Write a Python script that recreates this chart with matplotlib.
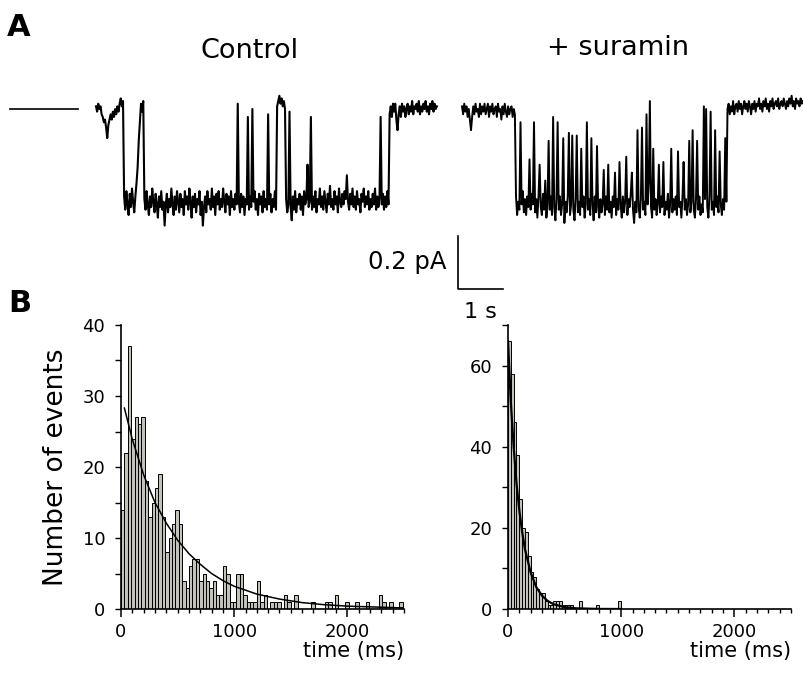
import numpy as np
import matplotlib
matplotlib.use("Agg")
import matplotlib.pyplot as plt
from matplotlib.ticker import MultipleLocator, FixedLocator

# ---- panel A: single-channel traces (pA), one sample every 25 ms ----
TRACE_DT = 0.025
control_trace = [
    0.01, -0.01, 0.02, 0.00, 0.01, -0.02, -0.03, -0.05, -0.04, -0.07,
    -0.11, -0.06, -0.04, -0.02, -0.04, -0.01, -0.03, 0.00, -0.02, 0.01,
    -0.01, 0.02, 0.04, 0.01, 0.03, -0.33, -0.38, -0.31, -0.36, -0.40,
    -0.32, -0.37, -0.30, -0.35, -0.39, -0.33, -0.28, -0.22, -0.12, -0.05,
    0.02, -0.01, 0.03, -0.34, -0.38, -0.31, -0.36, -0.40, -0.33, -0.37,
    -0.30, -0.35, -0.39, -0.32, -0.36, -0.41, -0.33, -0.37, -0.31, -0.38,
    -0.35, -0.44, -0.36, -0.32, -0.39, -0.34, -0.37, -0.30, -0.36, -0.40,
    -0.33, -0.38, -0.31, -0.35, -0.39, -0.32, -0.37, -0.34, -0.40, -0.31,
    -0.36, -0.33, -0.38, -0.30, -0.35, -0.41, -0.33, -0.37, -0.32, -0.39,
    -0.34, -0.36, -0.31, -0.40, -0.35, -0.44, -0.37, -0.33, -0.39, -0.31,
    -0.36, -0.34, -0.38, -0.30, -0.37, -0.33, -0.40, -0.32, -0.36, -0.31,
    -0.38, -0.34, -0.37, -0.30, -0.35, -0.39, -0.32, -0.36, -0.33, -0.40,
    -0.31, -0.37, -0.34, -0.38, -0.32, -0.36, 0.02, -0.35, -0.39, -0.32,
    -0.37, -0.33, -0.40, -0.34, -0.36, -0.03, -0.38, -0.33, -0.37, 0.00,
    -0.35, -0.31, -0.38, -0.34, -0.40, -0.32, -0.36, -0.33, -0.39, -0.31,
    -0.37, -0.34, -0.38, -0.02, -0.36, -0.32, -0.39, -0.34, -0.37, -0.31,
    -0.38, 0.01, 0.03, 0.05, 0.02, 0.04, 0.01, 0.03, 0.00, -0.34,
    -0.39, -0.36, -0.01, -0.37, -0.42, -0.33, -0.38, -0.31, -0.39, -0.34,
    -0.36, -0.32, -0.38, -0.33, -0.40, -0.31, -0.36, -0.34, -0.21, -0.37,
    -0.35, -0.03, -0.38, -0.33, -0.37, -0.31, -0.39, -0.34, -0.36, -0.30,
    -0.37, -0.33, -0.38, -0.31, -0.35, -0.39, -0.32, -0.36, -0.29, -0.37,
    -0.34, -0.38, -0.31, -0.36, -0.33, -0.39, -0.30, -0.35, -0.37, -0.32,
    -0.36, -0.31, -0.34, -0.25, -0.35, -0.38, -0.32, -0.36, -0.30, -0.37,
    -0.33, -0.38, -0.31, -0.36, -0.34, -0.39, -0.32, -0.35, -0.30, -0.37,
    -0.33, -0.36, -0.31, -0.38, -0.34, -0.37, -0.32, -0.36, -0.30, -0.38,
    -0.33, -0.37, -0.34, -0.03, -0.36, -0.32, -0.38, -0.33, -0.37, -0.31,
    -0.36, -0.02, 0.01, -0.03, 0.02, -0.01, 0.02, -0.04, -0.08, -0.02,
    0.01, -0.03, 0.02, -0.01, 0.01, -0.03, 0.00, 0.02, -0.02, 0.01,
    -0.01, 0.03, -0.02, 0.01, 0.00, 0.02, -0.01, 0.03, -0.02, 0.01,
    -0.01, 0.02, 0.00, 0.03, -0.01, 0.01, -0.02, 0.02, 0.00, 0.03,
    -0.01, 0.02, 0.00, 0.01,
]
suramin_trace = [
    0.01, -0.02, 0.02, -0.01, 0.01, -0.03, 0.00, -0.04, -0.08, -0.03,
    0.01, -0.02, 0.02, -0.01, 0.00, -0.03, 0.02, -0.02, 0.01, -0.01,
    0.02, -0.02, 0.00, 0.02, -0.03, 0.01, -0.01, 0.02, -0.02, 0.00,
    0.01, -0.03, 0.02, -0.01, 0.00, -0.04, 0.01, -0.02, 0.02, -0.01,
    -0.03, 0.01, -0.02, 0.00, 0.01, -0.03, 0.00, -0.02, -0.33, -0.40,
    -0.35, -0.38, -0.05, -0.36, -0.31, -0.39, -0.34, -0.40, -0.33, -0.37,
    -0.19, -0.38, -0.32, -0.36, -0.05, -0.39, -0.34, -0.41, -0.33, -0.21,
    -0.37, -0.40, -0.32, -0.38, -0.27, -0.41, -0.36, -0.12, -0.38, -0.33,
    -0.40, -0.03, -0.37, -0.42, -0.34, -0.05, -0.38, -0.33, -0.40, -0.36,
    -0.11, -0.43, -0.35, -0.39, -0.33, -0.09, -0.40, -0.36, -0.10, -0.38,
    -0.42, -0.34, -0.10, -0.39, -0.35, -0.40, -0.15, -0.37, -0.33, -0.41,
    -0.36, -0.05, -0.38, -0.34, -0.40, -0.11, -0.36, -0.42, -0.33, -0.39,
    -0.14, -0.37, -0.41, -0.34, -0.39, -0.36, -0.23, -0.40, -0.33, -0.38,
    -0.21, -0.39, -0.35, -0.41, -0.33, -0.37, -0.24, -0.40, -0.34, -0.38,
    -0.20, -0.36, -0.41, -0.33, -0.39, -0.35, -0.18, -0.40, -0.34, -0.37,
    -0.32, -0.24, -0.38, -0.43, -0.35, -0.39, -0.08, -0.37, -0.41, -0.34,
    -0.07, -0.38, -0.35, -0.40, -0.02, -0.36, -0.28, 0.03, -0.37, -0.41,
    -0.15, -0.38, -0.34, -0.40, -0.36, -0.21, -0.39, -0.33, -0.37, -0.20,
    -0.40, -0.35, -0.38, -0.32, -0.41, -0.36, -0.15, -0.39, -0.34, -0.38,
    -0.33, -0.40, -0.16, -0.37, -0.35, -0.41, -0.33, -0.20, -0.38, -0.34,
    -0.40, -0.36, -0.12, -0.39, -0.35, -0.08, -0.38, -0.41, -0.34, -0.12,
    -0.38, -0.33, -0.40, -0.36, -0.39, 0.01, -0.34, 0.00, -0.37, -0.41,
    -0.33, -0.01, -0.38, -0.35, -0.40, -0.08, -0.37, -0.33, -0.39, -0.16,
    -0.36, -0.40, -0.34, -0.38, -0.11, -0.35, 0.00, 0.02, -0.02, 0.01,
    -0.01, 0.03, -0.02, 0.01, 0.02, -0.01, 0.03, 0.00, 0.02, -0.02,
    0.01, 0.03, 0.00, 0.02, -0.01, 0.03, 0.01, -0.02, 0.02, 0.00,
    0.03, -0.01, 0.02, 0.01, 0.04, 0.00, 0.02, -0.01, 0.03, 0.01,
    0.04, 0.00, 0.02, -0.01, 0.03, 0.01, 0.04, 0.00, 0.02, 0.03,
    0.01, 0.04, 0.00, 0.02, 0.03, 0.01, 0.04, 0.02, 0.00, 0.03,
    0.01, 0.04, 0.02, 0.05, 0.01, 0.03, 0.00, 0.04, 0.02, 0.03,
    0.01, 0.04, 0.02, 0.03,
]

# ---- panel B: dwell-time histograms ----
control_bin_ms = 30
control_counts = [
    14, 22, 37, 24, 27, 26, 27, 18, 13, 15, 17, 19, 13, 8, 10, 12, 14, 12, 4, 3,
    6, 7, 7, 4, 5, 4, 3, 4, 2, 2, 6, 5, 1, 1, 5, 5, 2, 1, 1, 1, 4, 1, 2, 0,
    1, 1, 1, 0, 2, 1, 0, 2, 0, 0, 0, 0, 1, 0, 0, 0, 1, 1, 0, 2, 0, 0, 1, 0,
    0, 1, 0, 0, 1, 0, 0, 0, 2, 1, 0, 1, 0, 0, 1,
]
control_fit_ms = [30, 100, 200, 300, 400, 500, 600, 700, 800, 900, 1000, 1200,
                  1400, 1600, 1800, 2000, 2200, 2500]
control_fit = [28.3, 23.9, 18.9, 15.0, 12.1, 9.7, 7.8, 6.3, 5.0, 4.0, 3.2, 2.1,
               1.4, 0.9, 0.6, 0.4, 0.3, 0.15]

suramin_bin_ms = 25
suramin_counts = [
    66, 58, 46, 38, 27, 20, 19, 13, 9, 8, 5, 4, 4, 2, 1, 1, 2, 2, 2, 1,
    1, 1, 1, 0, 0, 2, 0, 0, 0, 0, 0, 1, 0, 0, 0, 0, 0, 0, 0, 2,
]
suramin_fit_ms = [0, 25, 50, 75, 100, 125, 150, 200, 250, 300, 350, 400, 500,
                  600, 800, 1000]
suramin_fit = [66, 51, 40, 31, 24.3, 19, 14.7, 9, 5.4, 3.3, 2, 1.2, 0.45,
               0.17, 0.02, 0.0]

BAR_COLOR = "#c2c2ba"
W, H = 804, 683


def fig_rect(x0, y0, x1, y1):
    # pixel box (top-left origin) -> figure fraction rect
    return [x0 / W, 1 - y1 / H, (x1 - x0) / W, (y1 - y0) / H]


def style_hist(ax, ymax, ymajor, yminor):
    ax.set_xlim(0, 2500)
    ax.set_ylim(0, ymax)
    for side in ["top", "right"]:
        ax.spines[side].set_visible(False)
    for side in ["left", "bottom"]:
        ax.spines[side].set_linewidth(1.2)
    ax.xaxis.set_major_locator(FixedLocator([0, 1000, 2000]))
    ax.xaxis.set_minor_locator(MultipleLocator(100))
    ax.yaxis.set_major_locator(MultipleLocator(ymajor))
    ax.yaxis.set_minor_locator(MultipleLocator(yminor))
    ax.tick_params(axis="x", which="major", length=6, width=1.1, pad=4, labelsize=13)
    ax.tick_params(axis="x", which="minor", length=3, width=1.0)
    ax.tick_params(axis="y", which="both", length=4.3, width=1.0, pad=7, labelsize=13)
    ax.set_xlabel("time (ms)", fontsize=15, loc="right", labelpad=0)


fig = plt.figure(figsize=(W / 100, H / 100), dpi=100)

# panel A
ax_a = fig.add_axes(fig_rect(0, 80, W, 330))
ax_a.set_xlim(0, W / 45)
ax_a.set_ylim(-(330 - 109) / 265, (109 - 80) / 265)
ax_a.axis("off")

t_ctrl = 96 / 45 + TRACE_DT * np.arange(len(control_trace))
t_sur = 462 / 45 + TRACE_DT * np.arange(len(suramin_trace))
ax_a.plot(t_ctrl, control_trace, color="black", lw=1.5)
ax_a.plot(t_sur, suramin_trace, color="black", lw=1.4)
ax_a.plot([10 / 45, 78 / 45], [0, 0], color="black", lw=1.2)

# scale bar: 1 s, 0.2 pA
sb_x, sb_y = 458 / 45, -(289 - 109) / 265
ax_a.plot([sb_x, sb_x, sb_x + 1], [sb_y + 0.2, sb_y, sb_y], color="black", lw=1.2)
ax_a.text(sb_x - 0.25, sb_y + 0.1, "0.2 pA", ha="right", va="center", fontsize=17.5)
ax_a.text(sb_x + 0.5, sb_y - 0.085, "1 s", ha="center", va="center", fontsize=16)

fig.text(250 / W, 1 - 51 / H, "Control", ha="center", va="center", fontsize=19.5)
fig.text(618 / W, 1 - 48 / H, "+ suramin", ha="center", va="center", fontsize=19.5)
fig.text(19 / W, 1 - 27 / H, "A", ha="center", va="center", fontsize=22, fontweight="bold")
fig.text(20 / W, 1 - 304 / H, "B", ha="center", va="center", fontsize=22, fontweight="bold")

# panel B, control
ax_c = fig.add_axes(fig_rect(121, 325, 404, 609))
edges_c = control_bin_ms * np.arange(len(control_counts))
ax_c.bar(edges_c, control_counts, width=control_bin_ms, align="edge",
         color=BAR_COLOR, edgecolor="black", linewidth=0.7)
ax_c.plot(control_fit_ms, control_fit, color="black", lw=1.1)
style_hist(ax_c, 40, 10, 5)
ax_c.set_ylabel("Number of events", fontsize=19, labelpad=10)

# panel B, suramin
ax_s = fig.add_axes(fig_rect(508, 325, 791, 609))
edges_s = suramin_bin_ms * np.arange(len(suramin_counts))
ax_s.bar(edges_s, suramin_counts, width=suramin_bin_ms, align="edge",
         color=BAR_COLOR, edgecolor="black", linewidth=0.7)
ax_s.plot(suramin_fit_ms, suramin_fit, color="black", lw=1.6)
style_hist(ax_s, 70, 20, 10)

fig.savefig("out.png", dpi=100)
